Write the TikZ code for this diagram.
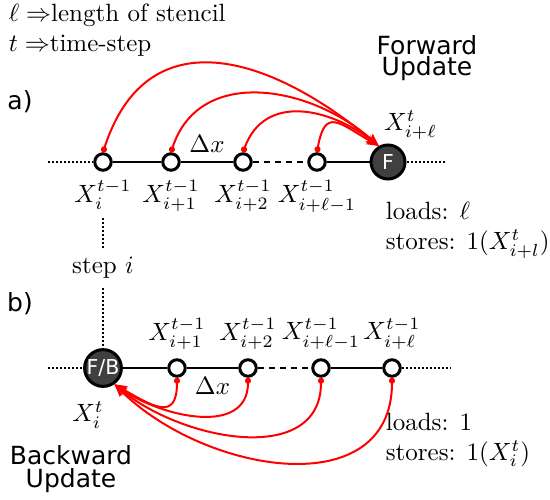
\documentclass[tikz,border=0pt]{standalone}
\usepackage{fontspec}
\newfontfamily\sansf{DejaVu Sans}
\usetikzlibrary{arrows.meta}

\begin{document}
\begin{tikzpicture}[x=0.4pt,y=-0.4pt,
      cellcircle/.style={
         circle,
         draw=black,
         fill=white,
         line width=1.2pt,
         inner sep=0pt,
         minimum size=6.6pt},
      updcircle/.style={
         circle,
         draw=black,
         fill=black!75,
         line width=1.2pt,
         inner sep=0pt,
         minimum size=13.6pt,
         text=white,
         font=\sansf\fontsize{8.2}{9}\selectfont},
      gridline/.style={line width=0.8pt},
      dotline/.style={line width=0.8pt, dash pattern=on 0.8pt off 0.8pt},
      dashline/.style={line width=0.8pt, dash pattern=on 2.6pt off 1.8pt},
      redarrow/.style={red, line width=0.8pt,
         {Circle[length=2.4pt]}-{Stealth[length=5pt,width=4pt]}},
      sanstext/.style={font=\sansf, align=center}
      ]
      \useasboundingbox (0,0) rectangle (550,499);

      % legend
      \node[anchor=west] (lgd1) at (0,15) {$\ell \Rightarrow$length of stencil};
      \node[anchor=west] (lgd2) at (0,46) {$t \Rightarrow$time-step};

      % a) forward update
      \node[sanstext] (capa) at (20,102) {a)};
      \node[sanstext, font=\sansf\fontsize{10}{8.6}\selectfont] (fwd) at (427,58) {Forward\\Update};
      \coordinate (aL) at (48,162);
      \coordinate (aR) at (445,162);
      \node[cellcircle, label={[name=la0]below:$X^{t-1}_{i}$}] (a0) at (103,162) {};
      \node[cellcircle, label={below:$X^{t-1}_{i+1}$}] (a1) at (171,162) {};
      \node[cellcircle, label={below:$X^{t-1}_{i+2}$}] (a2) at (243,162) {};
      \node[cellcircle, label={below:$X^{t-1}_{i+\ell-1}$}] (a3) at (317,162) {};
      \node[updcircle, label={[xshift=9pt,label distance=-2pt]above:$X^{t}_{i+\ell}$}] (aF) at (388,162) {F};
      \draw[dotline] (aL) -- (a0);
      \draw[gridline] (a0) -- (a1) -- node[above] {$\Delta x$} (a2);
      \draw[dashline] (a2) -- (a3);
      \draw[gridline] (a3) -- (aF);
      \draw[dotline] (aF) -- (aR);
      \node[anchor=west, align=left] (costa) at (377,230) {loads: $\ell$\\stores: $1(X^t_{i+l})$};

    \foreach \s/\o/\i/\l in {% start node/out/in/looseness
      a0/72/140/1.32,
      a1/72/138/1.12,
      a2/70/142/1.18,
      a3/80/150/1.9}
       \draw[redarrow] (\s.north) to[out=\o,in=\i,looseness=\l] (aF.120);

      % b) backward update
      \node[sanstext] (capb) at (20,304) {b)};
      \node[sanstext, font=\sansf\fontsize{10}{9.2}\selectfont] (bwd) at (71,469) {Backward\\Update};
      \coordinate (bL) at (48,368);
      \coordinate (bR) at (450,368);
      \node[updcircle, label={[xshift=-6pt,label distance=2pt]below:$X^{t}_{i}$}] (bF) at (103,368) {F/B};
      \node[cellcircle, label={above:$X^{t-1}_{i+1}$}] (b1) at (177,368) {};
      \node[cellcircle, label={above:$X^{t-1}_{i+2}$}] (b2) at (248,368) {};
      \node[cellcircle, label={above:$X^{t-1}_{i+\ell-1}$}] (b3) at (321,368) {};
      \node[cellcircle, label={above:$X^{t-1}_{i+\ell}$}] (b4) at (392,368) {};
      \draw[dotline] (bL) -- (bF);
      \draw[gridline] (bF) -- (b1) -- node[below] {$\Delta x$} (b2);
      \draw[dashline] (b2) -- (b3);
      \draw[gridline] (b3) -- (b4);
      \draw[dotline] (b4) -- (bR);
      \node[anchor=west, align=left] (costb) at (377,440) {loads: $1$\\stores: $1(X^t_{i})$};

    \foreach \s/\i/\l in {% start node/in/looseness
      b1/-30/1.8,
      b2/-35/1.12,
      b3/-40/1.1,
      b4/-45/1.17}
       \draw[redarrow] (\s.south) to[out=-90,in=\i,looseness=\l] (bF.-55);

     % link between both rows
     \node (step) at (103,268) {step $i$};
     \draw[dotline] (la0.south) -- (step);
     \draw[dotline] (step) -- (bF);
    \end{tikzpicture}
\end{document}
